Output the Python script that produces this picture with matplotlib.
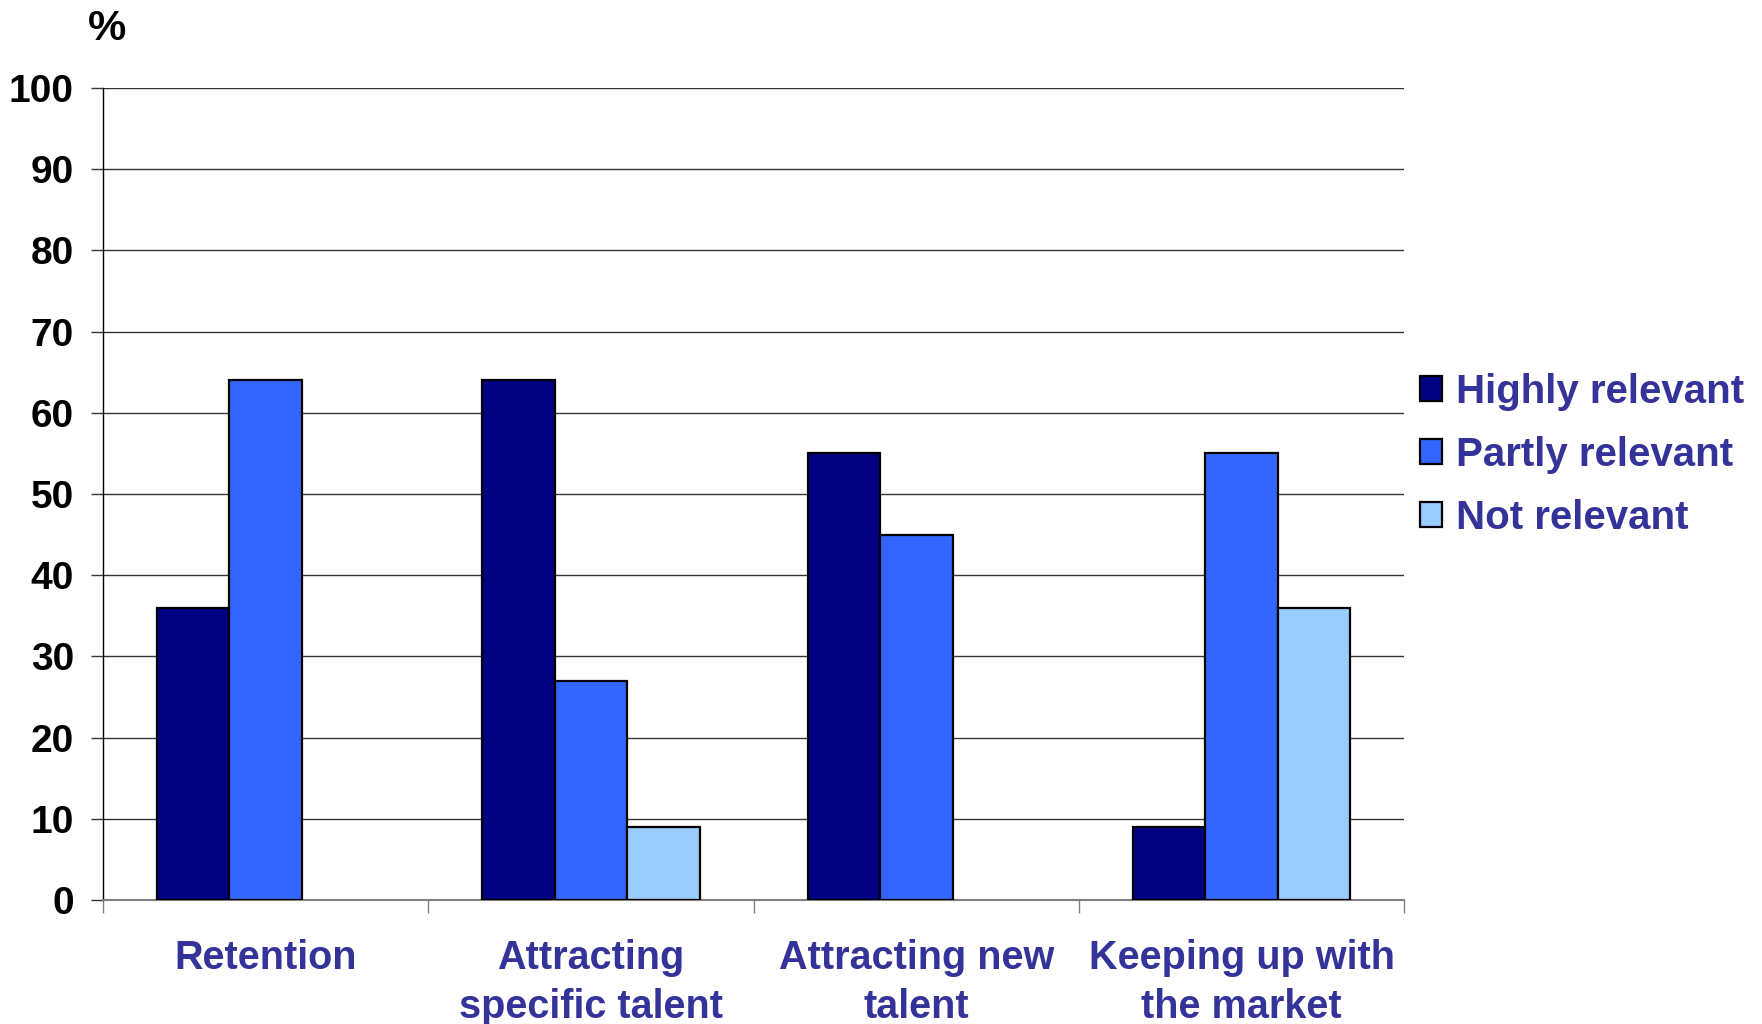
import numpy as np
import matplotlib
matplotlib.use("Agg")
import matplotlib.pyplot as plt
from matplotlib.patches import Patch

categories = ["Retention", "Attracting\nspecific talent", "Attracting new\ntalent", "Keeping up with\nthe market"]
series = ["Highly relevant", "Partly relevant", "Not relevant"]
highly = [36, 64, 55, 9]
partly = [64, 27, 45, 55]
not_rel = [0, 9, 0, 36]
colors = ["#000080", "#3366FF", "#99CCFF"]

plt.rcParams["font.family"] = ["Liberation Sans", "DejaVu Sans"]
plt.rcParams["font.weight"] = "bold"

fig = plt.figure(figsize=(17.62, 10.24), dpi=100)
ax = fig.add_axes([0.0585, 0.1211, 0.7385, 0.7929])

x = np.arange(len(categories)) + 0.5
w = 0.223
for i, (vals, col) in enumerate(zip([highly, partly, not_rel], colors)):
    for xi, v in zip(x, vals):
        if v > 0:
            ax.bar(xi + (i - 1) * w, v, width=w, color=col, edgecolor="black",
                   linewidth=1.6, zorder=3)

ax.set_xlim(0, 4)
ax.set_ylim(0, 100)
ax.set_yticks(range(0, 101, 10))
ax.yaxis.grid(True, color="#333333", linewidth=1.0, zorder=0)
ax.set_axisbelow(True)
for s in ["top", "right"]:
    ax.spines[s].set_visible(False)
ax.spines["left"].set_color("black")
ax.spines["left"].set_linewidth(1.0)
ax.spines["bottom"].set_color("#808080")
ax.spines["bottom"].set_linewidth(1.5)

ax.set_xticks([0, 1, 2, 3, 4])
ax.set_xticklabels([])
ax.tick_params(axis="x", length=9, width=1.0, color="#808080")
ax.set_xticks(x, minor=True)
ax.set_xticklabels(categories, minor=True, fontsize=28.5, fontweight="bold",
                   color="#333399", linespacing=1.36)
ax.tick_params(axis="x", which="minor", length=0, pad=28)
ax.tick_params(axis="y", length=9, width=1.0, color="#333333", labelsize=28, pad=12)
for t in ax.get_yticklabels():
    t.set_fontweight("bold")

fig.text(0.05, 0.972, "%", fontsize=31, fontweight="bold", va="center", ha="left")

handles = [Patch(facecolor=c, edgecolor="black", linewidth=1.6) for c in colors]
ax.legend(handles, series, loc="center left", bbox_to_anchor=(0.806, 0.556),
          bbox_transform=fig.transFigure, frameon=False,
          labelcolor="#333399", handlelength=0.55, handleheight=0.55,
          handletextpad=0.35, labelspacing=0.62, borderpad=0, borderaxespad=0,
          prop={"weight": "bold", "size": 29})

fig.savefig("out.png", dpi=100)
